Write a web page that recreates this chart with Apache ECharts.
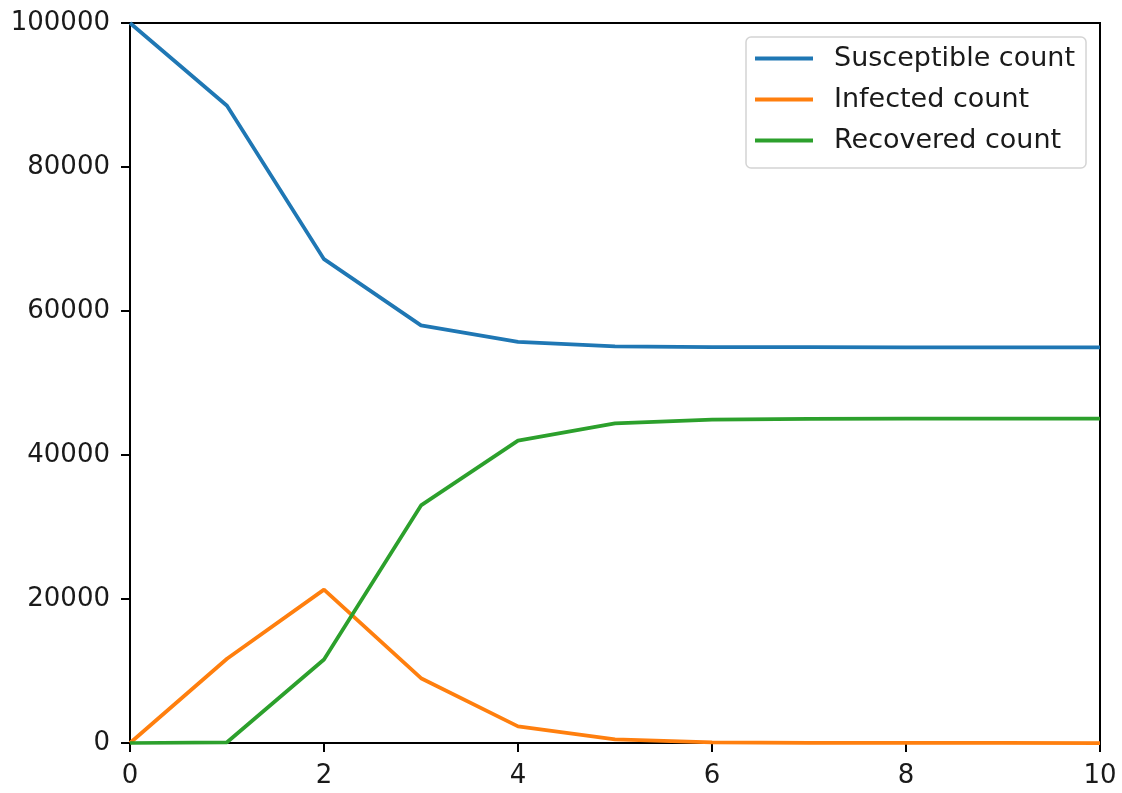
<!DOCTYPE html>
<html>
<head>
<meta charset="utf-8">
<script src="https://cdn.jsdelivr.net/npm/echarts@6/dist/echarts.min.js"></script>
<style>
    html, body { margin: 0; padding: 0; background: #fff; }
    #chart { width: 1122px; height: 793px; }
</style>
</head>
<body>
<div id="chart"></div>
<script>
const STEPS = [0, 1, 2, 3, 4, 5, 6, 7, 8, 9, 10];
const SUSCEPTIBLE = [100000, 88500, 67200, 58000, 55700, 55100, 54990, 54970, 54960, 54950, 54950];
const INFECTED = [0, 11700, 21300, 9000, 2300, 500, 100, 20, 5, 1, 0];
const RECOVERED = [0, 100, 11600, 33000, 42000, 44400, 44900, 45010, 45035, 45050, 45050];
const SERIES_NAMES = ['Susceptible count', 'Infected count', 'Recovered count'];
const COLORS = ['#1f77b4', '#ff7f0e', '#2ca02c'];

const FONT = 'DejaVu Sans';

function pairs(values) {
    return STEPS.map((x, i) => [x, values[i]]);
}

const chart = echarts.init(document.getElementById('chart'));

const axisCommon = {
    axisLine: { show: true, lineStyle: { color: '#000', width: 2 } },
    axisTick: { show: true, inside: false, length: 9, lineStyle: { color: '#000', width: 2 } },
    splitLine: { show: false },
    axisLabel: { color: '#1a1a1a', fontFamily: FONT, fontSize: 26, formatter: v => String(v) }
};

const option = {
    animation: false,
    backgroundColor: '#fff',
    color: COLORS,
    grid: {
        left: 130, top: 23, width: 970, height: 720,
        show: true, borderColor: '#000', borderWidth: 2, backgroundColor: 'transparent'
    },
    legend: {
        orient: 'vertical',
        left: 746, top: 37,
        padding: [8, 11, 14, 9],
        backgroundColor: 'rgba(255,255,255,0.8)',
        borderColor: '#d4d4d4',
        borderWidth: 1.5,
        borderRadius: 5,
        itemWidth: 58,
        itemHeight: 4,
        itemGap: 14,
        icon: 'rect',
        textStyle: { color: '#1a1a1a', fontFamily: FONT, fontSize: 27, padding: [0, 0, 0, 16] },
        data: SERIES_NAMES
    },
    xAxis: Object.assign({}, axisCommon, {
        type: 'value', min: 0, max: 10, interval: 2,
        axisLabel: Object.assign({}, axisCommon.axisLabel, { margin: 20 })
    }),
    yAxis: Object.assign({}, axisCommon, {
        type: 'value', min: 0, max: 100000, interval: 20000,
        axisLabel: Object.assign({}, axisCommon.axisLabel, { margin: 20 })
    }),
    series: [SUSCEPTIBLE, INFECTED, RECOVERED].map((vals, i) => ({
        name: SERIES_NAMES[i],
        type: 'line',
        data: pairs(vals),
        symbol: 'none',
        lineStyle: { color: COLORS[i], width: 3.75 },
        itemStyle: { color: COLORS[i] }
    }))
};

chart.setOption(option);
</script>
</body>
</html>
